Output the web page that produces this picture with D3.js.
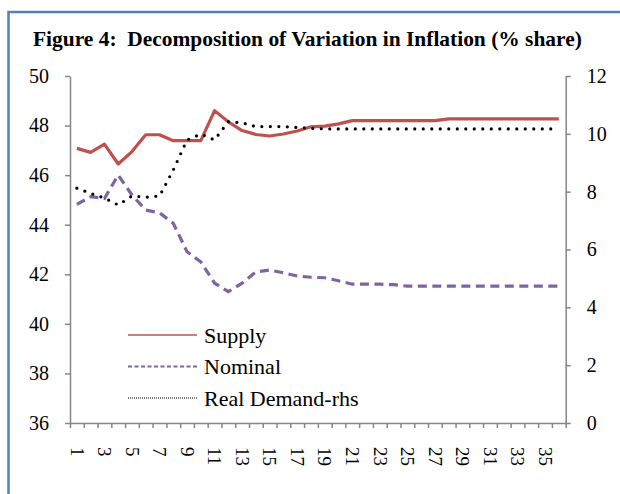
<!DOCTYPE html>
<html>
<head>
<meta charset="utf-8">
<script src="https://cdn.jsdelivr.net/npm/d3@7"></script>
<style>
  body { margin: 0; background: #fff; }
  svg { display: block; font-family: "Liberation Serif", "Times New Roman", serif; }
</style>
</head>
<body>
<svg id="chart"></svg>
<script>
const width = 620;
const height = 494;

// periods 1..36
const periods = d3.range(1, 37);

// left axis (% share)
const supply = [47.08, 46.92, 47.25, 46.45, 46.95, 47.63, 47.63, 47.39, 47.39, 47.39,
  48.6, 48.15, 47.8, 47.64, 47.58, 47.66, 47.78, 47.95, 47.98, 48.07,
  48.2, 48.2, 48.2, 48.2, 48.2, 48.2, 48.2, 48.27, 48.27, 48.27,
  48.27, 48.27, 48.27, 48.27, 48.27, 48.27];

const nominal = [44.82, 45.13, 45.06, 46.0, 45.2, 44.59, 44.48, 44.06, 42.91, 42.5,
  41.64, 41.3, 41.64, 42.1, 42.17, 42.06, 41.93, 41.88, 41.86, 41.74,
  41.6, 41.6, 41.6, 41.58, 41.52, 41.52, 41.52, 41.52, 41.52, 41.52,
  41.52, 41.52, 41.52, 41.52, 41.52, 41.52];

// right axis
const realDemand = [8.12, 7.94, 7.78, 7.54, 7.85, 7.81, 7.85, 8.75, 9.79, 9.99,
  9.79, 10.42, 10.38, 10.25, 10.25, 10.25, 10.22, 10.19, 10.17, 10.17,
  10.17, 10.17, 10.17, 10.17, 10.17, 10.17, 10.17, 10.17, 10.17, 10.17,
  10.17, 10.17, 10.17, 10.17, 10.17, 10.17];

const leftTicks = [36, 38, 40, 42, 44, 46, 48, 50];
const rightTicks = [0, 2, 4, 6, 8, 10, 12];
const xLabels = periods.filter((d) => d % 2 === 1);

const legendItems = [
  { name: "Supply", color: "#c0504d", dash: null, width: 1.6 },
  { name: "Nominal", color: "#8064a2", dash: "4,2.5", width: 2 },
  { name: "Real Demand-rhs", color: "#000", dash: "1,1", width: 1 },
];

const svg = d3.select("#chart").attr("width", width).attr("height", height);

// frame (blue border on left/top, runs off the picture)
svg.append("rect")
  .attr("x", 8.5).attr("y", 12)
  .attr("width", 640).attr("height", 520)
  .attr("fill", "#fff")
  .attr("stroke", "#4f81bd")
  .attr("stroke-width", 2.5);

// title: shrink font until it fits the same span as the reference
const title = svg.append("text")
  .attr("x", 33).attr("y", 46)
  .attr("font-size", 23)
  .attr("font-weight", "bold")
  .style("white-space", "pre")
  .text("Figure 4:  Decomposition of Variation in Inflation (% share)");
const titleW = title.node().getComputedTextLength();
if (titleW > 549) title.attr("font-size", 23 * 549 / titleW);

const plot = { left: 70, right: 565.7, top: 76, bottom: 423 };

const x = d3.scaleLinear().domain([0.5, 36.5]).range([plot.left, plot.right]);
const yL = d3.scaleLinear().domain([36, 50]).range([plot.bottom, plot.top]);
const yR = d3.scaleLinear().domain([0, 12]).range([plot.bottom, plot.top]);

const axisColor = "#868686";

function styleAxis(g) {
  g.selectAll("path.domain").attr("stroke", axisColor).attr("stroke-width", 1.5);
  g.selectAll(".tick line").attr("stroke", axisColor).attr("stroke-width", 1.5);
  g.selectAll(".tick text").attr("fill", "#000").attr("font-size", 20)
    .attr("font-family", "Liberation Serif, Times New Roman, serif");
}

svg.append("g")
  .attr("transform", `translate(${plot.left},0)`)
  .call(d3.axisLeft(yL).tickValues(leftTicks).tickSize(5).tickSizeOuter(0).tickPadding(16))
  .call(styleAxis);

svg.append("g")
  .attr("transform", `translate(${plot.right},0)`)
  .call(d3.axisRight(yR).tickValues(rightTicks).tickSize(5).tickSizeOuter(0).tickPadding(16))
  .call(styleAxis);

// category ticks sit between periods
svg.append("g")
  .attr("transform", `translate(0,${plot.bottom})`)
  .call(d3.axisBottom(x).tickValues(d3.range(0.5, 37, 1)).tickFormat("").tickSize(5).tickSizeOuter(0))
  .call(styleAxis);

svg.append("g")
  .selectAll("text")
  .data(xLabels)
  .join("text")
  .attr("transform", (d) => `translate(${x(d)},${plot.bottom + 24}) rotate(90)`)
  .attr("dy", "0.33em")
  .attr("font-size", 19)
  .text((d) => d);

const lineL = d3.line().x((d, i) => x(periods[i])).y((d) => yL(d));
const lineR = d3.line().x((d, i) => x(periods[i])).y((d) => yR(d));

svg.append("path")
  .datum(nominal)
  .attr("d", lineL)
  .attr("fill", "none")
  .attr("stroke", "#8064a2")
  .attr("stroke-width", 3.2)
  .attr("stroke-dasharray", "9,5.5");

svg.append("path")
  .datum(supply)
  .attr("d", lineL)
  .attr("fill", "none")
  .attr("stroke", "#c0504d")
  .attr("stroke-width", 3.2)
  .attr("stroke-linejoin", "round");

svg.append("path")
  .datum(realDemand)
  .attr("d", lineR)
  .attr("fill", "none")
  .attr("stroke", "#000")
  .attr("stroke-width", 3.2)
  .attr("stroke-linecap", "round")
  .attr("stroke-dasharray", "0,8.5");

// legend
const legend = svg.append("g").attr("transform", "translate(128,335)");
const rows = legend.selectAll("g")
  .data(legendItems)
  .join("g")
  .attr("transform", (d, i) => `translate(0,${i * 31.5})`);

rows.append("line")
  .attr("x1", 0).attr("x2", 69)
  .attr("stroke", (d) => d.color)
  .attr("stroke-width", (d) => d.width)
  .attr("stroke-dasharray", (d) => d.dash);

rows.append("text")
  .attr("x", 76).attr("dy", "0.36em")
  .attr("font-size", 22)
  .text((d) => d.name);
</script>
</body>
</html>
